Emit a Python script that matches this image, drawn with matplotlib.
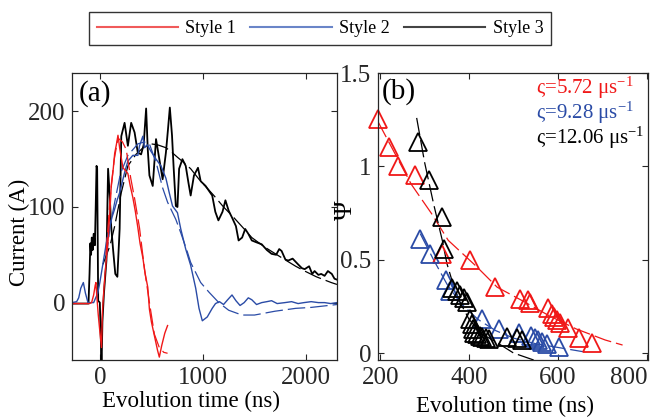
import matplotlib
matplotlib.use('Agg')
import matplotlib.pyplot as plt
from matplotlib.lines import Line2D

plt.rcParams['font.family'] = ['Liberation Serif', 'DejaVu Serif']
plt.rcParams['mathtext.fontset'] = 'custom'
plt.rcParams['mathtext.rm'] = 'Liberation Serif'
plt.rcParams['mathtext.it'] = 'Liberation Serif:italic'

RED = '#f01818'
BLUE = '#2a4ba6'
BLACK = '#000000'

# ---- panel (a): current waveforms ----
# style 1 (red) measured
t1 = [-270, -100, -80, -60, -45, -38, -30, -16, 0, 16, 25, 32, 50, 80, 100, 112, 130, 144, 160, 176,
      192, 210, 224, 250, 272, 295, 320, 345, 368, 390, 417, 440, 465, 481, 500, 530, 560, 577, 600, 630, 657]
i1 = [-1, -1, 0, 8, 18, 21, 8, -12, -30, -47, -10, 2, 30, 65, 100, 124, 140, 156, 165, 175,
      162, 150, 141, 138, 135, 122, 110, 95, 79, 62, 47, 30, 16, -7, -20, -35, -50, -57, -45, -32, -24]
# style 1 fit
t1_fit = [60, 100, 140, 176, 220, 256, 300, 337, 385, 433, 481, 529, 577, 620, 657]
i1_fit = [50, 110, 150, 172, 168, 160, 130, 109, 78, 35, 0, -33, -47, -52, -53]

# style 2 (blue) measured
t2 = [-270, -225, -205, -185, -160, -140, -115, -60, -40, -20, 0, 32, 64, 96, 120, 144, 170, 192, 215, 240,
      272, 320, 369, 385, 417, 433, 460, 497, 545, 593, 641, 673, 705, 753, 785, 833, 881, 930, 962, 994,
      1042, 1090, 1122, 1160, 1200, 1240, 1282, 1320, 1360, 1400, 1440, 1474, 1520, 1570, 1620, 1666,
      1720, 1795, 1860, 1923, 1980, 2050, 2120, 2180, 2240, 2300]
i2 = [0, 1, 5, 15, 21, 10, 0, 0, 5, 10, 21, 42, 63, 80, 90, 98, 108, 115, 125, 136,
      148, 154, 154, 164, 174, 162, 165, 158, 150, 143, 130, 115, 101, 94, 77, 56, 39, 15, -6, -19,
      -15, -6, -1, 1, -2, 3, 8, 2, -3, 0, 5, 3, -2, 0, 1, 2,
      -1, 0, 1, -1, 0, 1, 0, 0, -1, 0]
# style 2 fit
t2_fit = [60, 100, 144, 200, 272, 369, 430, 481, 550, 609, 657, 737, 785, 849, 881, 978, 1058, 1154,
          1250, 1378, 1500, 1699, 1900, 2051, 2300]
i2_fit = [45, 80, 105, 135, 154, 166, 168, 166, 145, 120, 105, 87, 73, 53, 42, 21, 11, 0,
          -8, -13, -13, -9, -6, -5, -2]

# style 3 (black) measured
t3 = [-270, -110, -100, -92, -85, -78, -70, -60, -48, -40, -32, -26, -16, 0, 10, 16, 25, 40, 64, 80,
      96, 110, 128, 150, 170, 192, 208, 240, 272, 304, 337, 368, 400, 425, 449, 465, 481, 513, 545, 577,
      609, 641, 660, 679, 700, 715, 737, 753, 769, 801, 833, 860, 881, 913, 952, 978, 1026, 1090, 1120, 1150,
      1190, 1218, 1250, 1282, 1320, 1346, 1380, 1410, 1440, 1474, 1520, 1570, 1620, 1666, 1710, 1740, 1763,
      1800, 1827, 1870, 1923, 1960, 1987, 2030, 2060, 2083, 2120, 2147, 2180, 2212, 2250, 2276, 2300]
i3 = [-1, -1, 30, 62, 50, 68, 55, 72, 60, 100, 143, 140, 2, 0, -40, -70, -20, 10, 44, 140,
      112, 80, 56, 30, 27, 77, 174, 188, 164, 188, 178, 157, 155, 165, 203, 160, 133, 122, 171, 150,
      129, 157, 180, 204, 175, 143, 101, 100, 140, 150, 143, 125, 112, 133, 141, 127, 122, 112, 95, 86,
      95, 107, 96, 89, 80, 65, 68, 77, 72, 65, 63, 61, 55, 51, 50, 56, 54,
      45, 44, 46, 40, 36, 35, 38, 30, 33, 29, 30, 28, 33, 30, 25, 24]
# style 3 fit
t3_fit = [30, 100, 144, 208, 272, 350, 420, 497, 560, 641, 700, 753, 820, 881, 962, 1106, 1200, 1282,
          1400, 1474, 1600, 1763, 1900, 1987, 2100, 2244, 2300]
i3_fit = [40, 60, 80, 115, 143, 155, 162, 166, 165, 162, 157, 152, 146, 140, 129, 112, 100, 91,
          77, 68, 58, 47, 38, 33, 27, 21, 19]

# ---- panel (b): Psi vs time ----
red_t = [195, 219, 241, 279, 340, 402, 458, 515, 533, 537, 578, 586, 590, 597, 604, 623, 646, 676]
red_psi = [1.255, 1.103, 1.005, 0.952, 0.53, 0.497, 0.355, 0.292, 0.283, 0.266, 0.239, 0.212,
           0.194, 0.176, 0.159, 0.132, 0.079, 0.052]
blue_t = [290, 313, 348, 357, 428, 468, 513, 540, 547, 555, 563, 575, 601]
blue_psi = [0.61, 0.53, 0.39, 0.33, 0.185, 0.13, 0.11, 0.09, 0.08, 0.07, 0.06, 0.05, 0.035]
black_t = [286, 309, 339, 343, 362, 372, 380, 388, 396, 403, 406, 408, 412, 418, 424, 430, 437, 445,
           484, 508, 518]
black_psi = [1.13, 0.925, 0.73, 0.56, 0.35, 0.33, 0.31, 0.295, 0.275, 0.18, 0.155, 0.13, 0.11, 0.10,
             0.09, 0.085, 0.08, 0.075, 0.085, 0.08, 0.07]

red_fit_t = [195, 270, 315, 353, 416, 463, 520, 580, 640, 706, 745]
red_fit_psi = [1.24, 0.904, 0.749, 0.604, 0.465, 0.353, 0.28, 0.20, 0.13, 0.07, 0.043]
blue_fit_t = [290, 320, 350, 380, 420, 460, 500, 550, 600, 657]
blue_fit_psi = [0.64, 0.5, 0.37, 0.27, 0.18, 0.12, 0.08, 0.05, 0.03, 0.007]
black_fit_t = [282, 300, 320, 340, 350, 365, 380, 400, 430, 460, 500, 545]
black_fit_psi = [1.26, 1.02, 0.80, 0.60, 0.48, 0.36, 0.27, 0.18, 0.10, 0.06, 0.0, -0.037]

rates = ['5.72', '9.28', '12.06']
legend_labels = ['Style 1', 'Style 2', 'Style 3']

fig = plt.figure(figsize=(6.51, 4.2), dpi=100)
ax1 = fig.add_axes([0.1106, 0.1429, 0.407, 0.683])
ax2 = fig.add_axes([0.5806, 0.1429, 0.4147, 0.683])

dash = (0, (14, 4))

# panel (a)
ax1.plot(t3, i3, color=BLACK, lw=1.3)
ax1.plot(t3_fit, i3_fit, color=BLACK, lw=0.9, ls=dash)
ax1.plot(t2, i2, color=BLUE, lw=1.0)
ax1.plot(t2_fit, i2_fit, color=BLUE, lw=0.9, ls=dash)
ax1.plot(t1, i1, color=RED, lw=1.0)
ax1.plot(t1_fit, i1_fit, color=RED, lw=0.9, ls=dash)
ax1.set_xlim(-270, 2300)
ax1.set_ylim(-60, 240)
ax1.set_xticks([0, 1000, 2000])
ax1.set_yticks([0, 100, 200])
ax1.set_xlabel('Evolution time (ns)', fontsize=16.5)
ax1.set_ylabel('Current (A)', fontsize=16.5)
ax1.xaxis.set_label_coords(0.451, -0.108)
ax1.yaxis.set_label_coords(-0.158, 0.446)
ax1.text(0.085, 0.93, '(a)', transform=ax1.transAxes, fontsize=21, ha='center', va='center')

# panel (b)
mk = dict(marker='^', ms=13, mfc='none', mew=1.3, ls='none', clip_on=False)
ax2.plot(red_fit_t, red_fit_psi, color=RED, lw=0.9, ls=dash)
ax2.plot(blue_fit_t, blue_fit_psi, color=BLUE, lw=0.9, ls=dash)
ax2.plot(black_fit_t, black_fit_psi, color=BLACK, lw=0.9, ls=dash)
ax2.plot(red_t, red_psi, mec=RED, **mk)
ax2.plot(blue_t, blue_psi, mec=BLUE, **mk)
ax2.plot(black_t, black_psi, mec=BLACK, **mk)
ax2.set_xlim(195, 802)
ax2.set_ylim(-0.037, 1.5)
ax2.set_xticks([200, 400, 600, 800])
ax2.set_yticks([0, 0.5, 1, 1.5])
ax2.set_yticklabels(['0', '0.5', '1', '1.5'])
ax2.get_xticklabels()[-1].set_ha('right')
ax2.set_xlabel('Evolution time (ns)', fontsize=16.5)
ax2.set_ylabel('Ψ', fontsize=19)
ax2.xaxis.set_label_coords(0.47, -0.125)
ax2.yaxis.set_label_coords(-0.078, 0.523)
ax2.text(0.078, 0.937, '(b)', transform=ax2.transAxes, fontsize=21, ha='center', va='center')
for rate, col, yy in zip(rates, [RED, BLUE, BLACK], [0.948, 0.861, 0.774]):
    ax2.text(0.585, yy, 'ς=' + rate + ' μs$^{-1}$', transform=ax2.transAxes, color=col,
             fontsize=15, ha='left', va='center')

for ax in (ax1, ax2):
    ax.tick_params(direction='in', length=4, width=0.8, labelsize=18, top=True, right=True,
                   colors='#262626', pad=5)
    for sp in ax.spines.values():
        sp.set_linewidth(0.9)
        sp.set_color('#262626')

# legend on top
handles = [Line2D([], [], color=c, lw=1.5) for c in ['#f05a5a', '#6a85c8', '#444444']]
leg = fig.legend(handles, legend_labels, loc='center', bbox_to_anchor=(320 / 651, 1 - 28.5 / 420),
                 ncol=3, frameon=True, fancybox=False, edgecolor='black', fontsize=13,
                 handlelength=4.5, handletextpad=0.4, columnspacing=0.8, borderpad=0.45)
leg.get_frame().set_linewidth(1.0)

fig.savefig('out.png', dpi=100)
